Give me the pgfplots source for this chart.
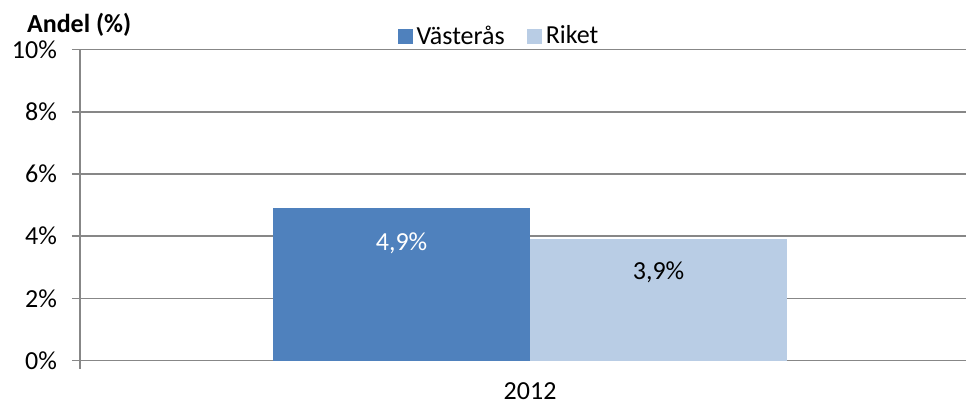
\documentclass[border=0pt]{standalone}
\usepackage{pgfplots}
\pgfplotsset{compat=1.18}
\usepackage{fontspec}
\setmainfont{Carlito}
\definecolor{cVas}{HTML}{4F81BD}
\definecolor{cRik}{HTML}{B9CDE5}
\definecolor{cGrid}{HTML}{878787}
\begin{document}
\begin{tikzpicture}[font=\fontsize{13pt}{15pt}\selectfont]
\path[use as bounding box] (0,0) rectangle (483.5pt,202.5pt);
\begin{axis}[
  at={(40pt,22.15pt)}, anchor=south west,
  scale only axis, width=443pt, height=155.6pt,
  xmin=0, xmax=1, ymin=0, ymax=10,
  axis x line*=bottom, axis y line*=left,
  axis line style={cGrid, line width=0.8pt},
  ytick={0,2,4,6,8,10},
  yticklabel={\pgfmathprintnumber{\tick}\%},
  ymajorgrids, grid style={cGrid, line width=0.8pt},
  xtick={0}, xticklabels={},
  extra x ticks={0.508}, extra x tick labels={2012},
  extra x tick style={major tick length=0pt, grid=none},
  tick align=outside, major tick length=4pt,
  tick style={cGrid, line width=0.8pt},
  /pgf/number format/assume math mode=true,
  ticklabel style={font=\fontsize{13pt}{15pt}\selectfont},
  xticklabel style={yshift=-7.5pt},
  yticklabel style={xshift=-4pt},
  clip=false,
  legend style={at={(0.474,1)}, anchor=south, draw=none, fill=none,
    legend columns=2, /tikz/every even column/.append style={column sep=9pt},
    font=\fontsize{13pt}{15pt}\selectfont, inner sep=1pt, yshift=-2pt},
  legend image code/.code={\fill[#1] (0pt,-3.6pt) rectangle (7.5pt,3.9pt);},
]
\addplot[ybar, bar shift=0pt, bar width=0.29, fill=cVas, draw=none,
  nodes near coords={\pgfmathprintnumber[fixed,fixed zerofill,precision=1,use comma]{\pgfplotspointmeta}\%},
  every node near coord/.append style={anchor=center, yshift=-17.3pt, white, font=\fontsize{13pt}{15pt}\selectfont}]
  coordinates {(0.3629,4.9)};
\addlegendentry{Västerås}
\addplot[ybar, bar shift=0pt, bar width=0.29, fill=cRik, draw=none,
  nodes near coords={\pgfmathprintnumber[fixed,fixed zerofill,precision=1,use comma]{\pgfplotspointmeta}\%},
  every node near coord/.append style={anchor=center, yshift=-16.5pt, black, font=\fontsize{13pt}{15pt}\selectfont}]
  coordinates {(0.6530,3.9)};
\addlegendentry{Riket}
\end{axis}
\node[anchor=base west, font=\bfseries\fontsize{13pt}{15pt}\selectfont] at (10pt,186pt) {Andel (\%)};
\end{tikzpicture}
\end{document}
